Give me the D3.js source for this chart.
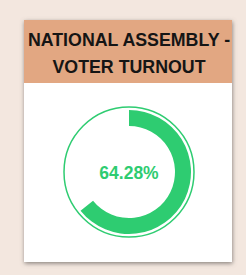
<!DOCTYPE html>
<html>
<head>
<meta charset="utf-8">
<script src="https://cdn.jsdelivr.net/npm/d3@7"></script>
<style>
  html, body { margin: 0; padding: 0; background: #f3e7df; }
  svg { display: block; }
</style>
</head>
<body>
<div id="chart"></div>
<script>
// data
var titleLines = ["NATIONAL ASSEMBLY -", "VOTER TURNOUT"];
var turnout = [64.28];
var total = [100];

var width = 246;
var height = 275;

var card = {x: 24, y: 20, w: 208, h: 242, head: 63};
var cx = 129, cy = 172;

var svg = d3.select('#chart')
  .append('svg')
  .attr('width', width)
  .attr('height', height);

var defs = svg.append('defs');
var shadow = defs.append('filter')
  .attr('id', 'shadow')
  .attr('x', '-20%').attr('y', '-20%')
  .attr('width', '140%').attr('height', '140%');
shadow.append('feDropShadow')
  .attr('dx', 0.5).attr('dy', 1.5)
  .attr('stdDeviation', 2.2)
  .attr('flood-color', '#6e6864')
  .attr('flood-opacity', 0.8);

// card
svg.append('rect')
  .attr('x', card.x).attr('y', card.y)
  .attr('width', card.w).attr('height', card.h)
  .attr('fill', '#ffffff')
  .attr('filter', 'url(#shadow)');

svg.append('rect')
  .attr('x', card.x).attr('y', card.y)
  .attr('width', card.w).attr('height', card.head)
  .attr('fill', '#e2a782');

svg.selectAll('.title')
  .data(titleLines)
  .enter()
  .append('text')
  .attr('class', 'title')
  .attr('x', card.x + card.w / 2 + 1)
  .attr('y', function (d, i) { return card.y + 25.5 + i * 27; })
  .attr('text-anchor', 'middle')
  .style('font-family', 'Liberation Sans, Arial, sans-serif')
  .style('font-weight', 'bold')
  .style('font-size', '17.8px')
  .style('fill', '#151515')
  .text(function (d) { return d; });

// donut
var angle = d3.scaleLinear()
  .domain([0, total[0]])
  .range([0, 2 * Math.PI]);

var g = svg.append('g')
  .attr('transform', 'translate(' + cx + ',' + cy + ')');

g.append('circle')
  .attr('r', 65)
  .attr('fill', 'none')
  .attr('stroke', '#2ecc71')
  .attr('stroke-width', 1.5);

var arc = d3.arc()
  .innerRadius(46)
  .outerRadius(62);

g.selectAll('path')
  .data(turnout)
  .enter()
  .append('path')
  .attr('d', function (d) {
    return arc({startAngle: 0, endAngle: angle(d)});
  })
  .attr('fill', '#2ecc71');

g.append('text')
  .attr('x', 0)
  .attr('y', 6.5)
  .attr('text-anchor', 'middle')
  .style('font-family', 'Liberation Sans, Arial, sans-serif')
  .style('font-weight', 'bold')
  .style('font-size', '17.5px')
  .style('fill', '#2ecc71')
  .text(turnout[0].toFixed(2) + '%');
</script>
</body>
</html>
